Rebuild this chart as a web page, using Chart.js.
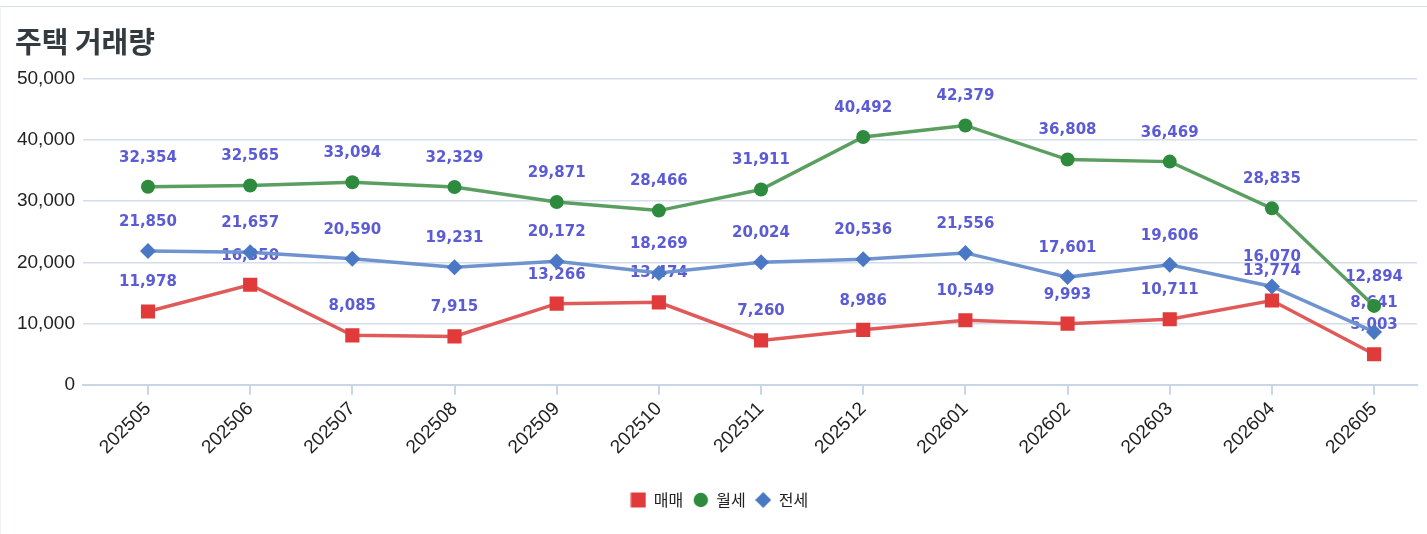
<!DOCTYPE html>
<html>
<head>
<meta charset="utf-8">
<script src="https://cdn.jsdelivr.net/npm/chart.js@4/dist/chart.umd.min.js"></script>
<style>
  html, body { margin: 0; padding: 0; background: #fff; }
  #wrap { position: absolute; left: 0; top: 0; width: 1427px; height: 534px; }
  #topline { position: absolute; left: 0; top: 6px; width: 1427px; height: 1px; background: #d3e0ee; }
  #leftline { position: absolute; left: 0; top: 6px; width: 1px; height: 528px; background: #eef2f6; }
  canvas#c { position: absolute; left: 0; top: 0; }
</style>
</head>
<body>
<div id="wrap">
  <div id="topline"></div>
  <div id="leftline"></div>
  <canvas id="c" width="1427" height="534"></canvas>
</div>
<script>
const categories = ['202505','202506','202507','202508','202509','202510','202511','202512','202601','202602','202603','202604','202605'];
const saleValues = [11978, 16350, 8085, 7915, 13266, 13474, 7260, 8986, 10549, 9993, 10711, 13774, 5003];
const monthlyRentValues = [32354, 32565, 33094, 32329, 29871, 28466, 31911, 40492, 42379, 36808, 36469, 28835, 12894];
const jeonseValues = [21850, 21657, 20590, 19231, 20172, 18269, 20024, 20536, 21556, 17601, 19606, 16070, 8641];
const seriesNames = ['매매', '월세', '전세'];
const yTicks = [0, 10000, 20000, 30000, 40000, 50000];
const titleText = '주택 거래량';

const labelPlugin = {
  id: 'pointLabels',
  afterDatasetDraw(chart, args) {
    const ctx = chart.ctx;
    const meta = args.meta;
    const ds = chart.data.datasets[args.index];
    ctx.save();
    ctx.font = 'bold 15px "DejaVu Sans", "Liberation Sans", sans-serif';
    ctx.fillStyle = '#5b5bd6';
    ctx.textAlign = 'center';
    ctx.textBaseline = 'middle';
    meta.data.forEach((pt, i) => {
      const v = ds.data[i].y;
      ctx.fillText(v.toLocaleString('en-US'), pt.x, pt.y - 29);
    });
    ctx.restore();
  }
};

function marker(kind, color) {
  const s = 16;
  const cv = document.createElement('canvas');
  cv.width = s; cv.height = s;
  const g = cv.getContext('2d');
  g.fillStyle = color;
  g.beginPath();
  if (kind === 'rect') { g.rect(0.5, 0.5, 15, 15); }
  else if (kind === 'circle') { g.arc(8, 8, 7.2, 0, Math.PI * 2); }
  else { g.moveTo(8, 0); g.lineTo(16, 8); g.lineTo(8, 16); g.lineTo(0, 8); g.closePath(); }
  g.fill();
  return cv;
}
const legendMarkers = {
  '매매': marker('rect', '#e03a3a'),
  '월세': marker('circle', '#2e8b3e'),
  '전세': marker('diamond', '#4a78c4')
};

const toXY = arr => arr.map((v, i) => ({ x: i, y: v }));
const legendOrder = seriesNames;

new Chart(document.getElementById('c'), {
  type: 'line',
  data: {
    datasets: [
      {
        label: seriesNames[0], data: toXY(saleValues), order: 3,
        borderColor: '#e05a5a', backgroundColor: '#e03a3a', borderWidth: 3.5,
        pointStyle: 'rect', pointRadius: 10, pointHoverRadius: 10,
        pointBackgroundColor: '#e03a3a', pointBorderColor: '#e03a3a', pointBorderWidth: 0
      },
      {
        label: seriesNames[1], data: toXY(monthlyRentValues), order: 1,
        borderColor: '#5a9e60', backgroundColor: '#2e8b3e', borderWidth: 3.5,
        pointStyle: 'circle', pointRadius: 7, pointHoverRadius: 7,
        pointBackgroundColor: '#2e8b3e', pointBorderColor: '#2e8b3e', pointBorderWidth: 0
      },
      {
        label: seriesNames[2], data: toXY(jeonseValues), order: 2,
        borderColor: '#6f93cf', backgroundColor: '#4a78c4', borderWidth: 3.5,
        pointStyle: 'rectRot', pointRadius: 8, pointHoverRadius: 8,
        pointBackgroundColor: '#4a78c4', pointBorderColor: '#4a78c4', pointBorderWidth: 0
      }
    ]
  },
  options: {
    responsive: false,
    animation: false,
    layout: { padding: { left: 15, right: 3, top: 0, bottom: 16 } },
    plugins: {
      tooltip: { enabled: false },
      title: {
        display: true, text: titleText, align: 'start',
        color: '#333a40',
        font: { family: '"Noto Sans CJK KR", sans-serif', size: 29, weight: 'bold', lineHeight: 1.2 },
        padding: { top: 25, bottom: 19 }
      },
      legend: {
        position: 'bottom',
        labels: {
          usePointStyle: true,
          boxWidth: 15, boxHeight: 15,
          padding: 10,
          color: '#222',
          font: { family: '"Noto Sans CJK KR", sans-serif', size: 16 },
          sort: (a, b) => legendOrder.indexOf(a.text) - legendOrder.indexOf(b.text),
          generateLabels: chart => {
            const items = Chart.defaults.plugins.legend.labels.generateLabels(chart);
            items.forEach(it => { it.pointStyle = legendMarkers[it.text]; });
            return items;
          }
        }
      }
    },
    scales: {
      x: {
        type: 'linear',
        min: -0.636, max: 12.42,
        afterBuildTicks: axis => { axis.ticks = categories.map((c, i) => ({ value: i })); },
        ticks: {
          autoSkip: false, maxRotation: 45, minRotation: 45,
          color: '#222',
          font: { family: '"Liberation Sans", Arial, sans-serif', size: 19 },
          callback: v => categories[v]
        },
        title: { display: true, text: '', font: { size: 1 }, padding: { top: 0, bottom: 19 } },
        grid: { drawOnChartArea: false, drawTicks: true, tickLength: 10, color: '#c9d6e6', lineWidth: 2 },
        border: { display: true, color: '#c9d6e6', width: 2 }
      },
      y: {
        min: 0, max: 50000,
        afterBuildTicks: axis => { axis.ticks = yTicks.map(v => ({ value: v })); },
        afterFit: axis => { axis.width = 68; },
        ticks: {
          color: '#222', padding: 8,
          font: { family: '"Liberation Sans", Arial, sans-serif', size: 19 },
          callback: v => v.toLocaleString('en-US')
        },
        grid: { color: '#d3deea', lineWidth: 1.5, drawTicks: false },
        border: { display: false }
      }
    }
  },
  plugins: [labelPlugin]
});
</script>
</body>
</html>
